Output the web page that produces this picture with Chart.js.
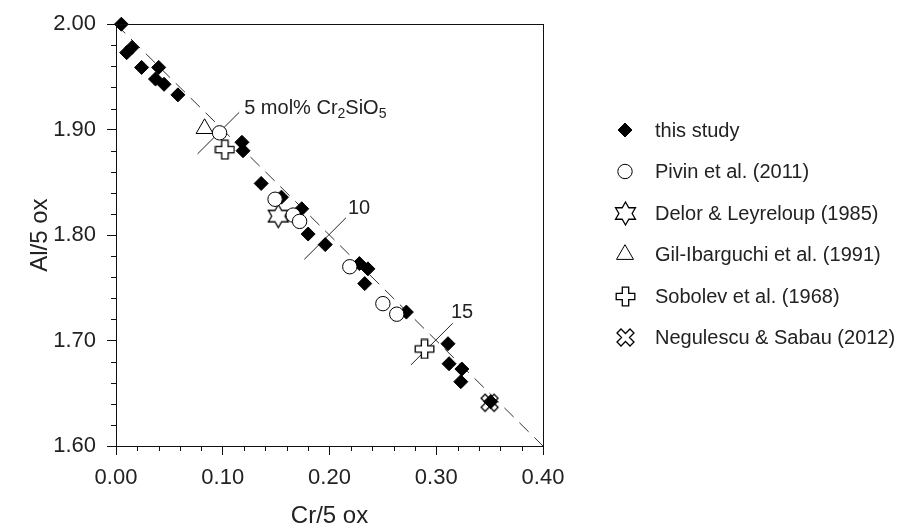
<!DOCTYPE html>
<html><head><meta charset="utf-8">
<script src="https://cdn.jsdelivr.net/npm/chart.js@4.4.1/dist/chart.umd.min.js"></script>
<style>html,body{margin:0;padding:0;background:#fff;}canvas{display:block;}</style>
</head><body>
<canvas id="c" width="902" height="531"></canvas>
<script>
const FONT = '"Liberation Sans", Arial, Helvetica, sans-serif';
const TEXT = '#222';

// ---- data ----
const thisStudyCr = [0.005, 0.015, 0.010, 0.024, 0.040, 0.037, 0.045, 0.058, 0.118, 0.119, 0.136, 0.155, 0.174, 0.180, 0.196, 0.228, 0.236, 0.233, 0.272, 0.311, 0.312, 0.324, 0.323, 0.351];
const thisStudyAl = [2.000, 1.978, 1.973, 1.959, 1.959, 1.948, 1.943, 1.933, 1.888, 1.880, 1.849, 1.836, 1.825, 1.801, 1.791, 1.773, 1.768, 1.754, 1.727, 1.697, 1.678, 1.673, 1.661, 1.642];
const pivinCr = [0.097, 0.149, 0.166, 0.172, 0.219, 0.250, 0.263];
const pivinAl = [1.897, 1.834, 1.819, 1.813, 1.770, 1.735, 1.725];
const delorCr = [0.152];
const delorAl = [1.818];
const gilCr = [0.083];
const gilAl = [1.901];
const sobolevCr = [0.102, 0.289];
const sobolevAl = [1.881, 1.692];
const negulescuCr = [0.350];
const negulescuAl = [1.641];
const seriesNames = ['this study', 'Pivin et al. (2011)', 'Delor & Leyreloup (1985)', 'Gil-Ibarguchi et al. (1991)', 'Sobolev et al. (1968)', 'Negulescu & Sabau (2012)'];

const xTickValues = [0.00, 0.10, 0.20, 0.30, 0.40];
const yTickValues = [1.60, 1.70, 1.80, 1.90, 2.00];
const minorStep = 0.02;
const refLineCr = [0.00, 0.40];            // Al + Cr = 2
const molMarkCr = [0.10, 0.20, 0.30];       // 5, 10, 15 mol% Cr2SiO5
const molMarkLabels = [[['5 mol% Cr', 0], ['2', 1], ['SiO', 0], ['5', 1]], [['10', 0]], [['15', 0]]];

// ---- custom symbols ----
function makeSymbol(size, pathFn) {
  const c = document.createElement('canvas');
  c.width = size; c.height = size;
  const g = c.getContext('2d');
  g.beginPath();
  pathFn(g, size / 2);
  g.closePath();
  g.fillStyle = '#fff'; g.fill();
  g.strokeStyle = '#000'; g.lineWidth = 1.3; g.stroke();
  return c;
}
const starImg = makeSymbol(27, (g, c) => {
  const R = 11.5, r = R / Math.sqrt(3);
  for (let k = 0; k < 12; k++) {
    const a = -Math.PI / 2 + k * Math.PI / 6;
    const rr = k % 2 === 0 ? R : r;
    const px = c + rr * Math.cos(a), py = c + rr * Math.sin(a);
    if (k) g.lineTo(px, py); else g.moveTo(px, py);
  }
});
function crossPts(a, w) {
  return [[-w,-a],[w,-a],[w,-w],[a,-w],[a,w],[w,w],[w,a],[-w,a],[-w,w],[-a,w],[-a,-w],[-w,-w]];
}
const plusImg = makeSymbol(21, (g, c) => {
  crossPts(9.3, 3.2).forEach((p, i) => i ? g.lineTo(c + p[0], c + p[1]) : g.moveTo(c + p[0], c + p[1]));
});
const xImg = makeSymbol(21, (g, c) => {
  const s = Math.SQRT1_2;
  crossPts(9.2, 2.8).forEach((p, i) => {
    const x = c + (p[0] - p[1]) * s, y = c + (p[0] + p[1]) * s;
    i ? g.lineTo(x, y) : g.moveTo(x, y);
  });
});

const toPts = (xs, ys) => xs.map((x, i) => ({x, y: ys[i]}));
const markSegment = c => [{x: c - 0.0236, y: 2 - c - 0.023}, {x: c + 0.0154, y: 2 - c + 0.0164}];

const pointBase = {showLine: false, borderColor: '#000', borderWidth: 1, clip: false};
const datasets = [
  Object.assign({label: seriesNames[0], data: toPts(thisStudyCr, thisStudyAl), pointStyle: 'rectRot', pointRadius: 7, backgroundColor: '#000', order: 4}, pointBase),
  Object.assign({label: seriesNames[1], data: toPts(pivinCr, pivinAl), pointStyle: 'circle', pointRadius: 7.2, backgroundColor: '#fff', order: 0}, pointBase),
  Object.assign({label: seriesNames[2], data: toPts(delorCr, delorAl), pointStyle: starImg, pointRadius: 10, backgroundColor: '#fff', order: 2}, pointBase),
  Object.assign({label: seriesNames[3], data: toPts(gilCr, gilAl), pointStyle: 'triangle', pointRadius: 9.8, backgroundColor: '#fff', order: 1}, pointBase),
  Object.assign({label: seriesNames[4], data: toPts(sobolevCr, sobolevAl), pointStyle: plusImg, pointRadius: 9, backgroundColor: '#fff', order: 3}, pointBase),
  Object.assign({label: seriesNames[5], data: toPts(negulescuCr, negulescuAl), pointStyle: xImg, pointRadius: 9, backgroundColor: '#fff', order: 5}, pointBase),
  {label: 'ref', data: toPts(refLineCr, refLineCr.map(c => 2 - c)), showLine: true, borderColor: '#333', borderWidth: 1, borderDash: [13, 8], pointRadius: 0, order: 10, isAux: true}
].concat(molMarkCr.map(c => ({label: 'mark', data: markSegment(c), showLine: true, borderColor: '#222', borderWidth: 1, pointRadius: 0, order: 9, isAux: true})));

function drawSym(ctx, ds, x, y) {
  const st = ds.pointStyle;
  if (st instanceof HTMLCanvasElement) {
    ctx.drawImage(st, Math.round(x - st.width / 2), Math.round(y - st.height / 2));
    return;
  }
  ctx.save();
  ctx.fillStyle = ds.backgroundColor; ctx.strokeStyle = ds.borderColor; ctx.lineWidth = ds.borderWidth;
  Chart.helpers.drawPoint(ctx, {pointStyle: st, radius: ds.pointRadius, rotation: 0, borderWidth: ds.borderWidth}, x, y);
  ctx.restore();
}

const decor = {
  id: 'decor',
  afterDraw(chart, args, opts) {
    const ctx = chart.ctx, a = chart.chartArea;
    const xs = chart.scales.x, ys = chart.scales.y;
    ctx.save();
    // frame
    ctx.strokeStyle = '#111'; ctx.lineWidth = 1;
    ctx.strokeRect(Math.round(a.left) + 0.5, Math.round(a.top) + 0.5, Math.round(a.right - a.left), Math.round(a.bottom - a.top));
    // minor ticks
    ctx.beginPath();
    const nx = Math.round((xs.max - xs.min) / minorStep);
    for (let k = 0; k <= nx; k++) {
      if (k % 5 === 0) continue;
      const px = Math.round(xs.getPixelForValue(xs.min + k * minorStep)) + 0.5;
      ctx.moveTo(px, Math.round(a.bottom)); ctx.lineTo(px, Math.round(a.bottom) + opts.minorLen);
    }
    const ny = Math.round((ys.max - ys.min) / minorStep);
    for (let k = 0; k <= ny; k++) {
      if (k % 5 === 0) continue;
      const py = Math.round(ys.getPixelForValue(ys.min + k * minorStep)) + 0.5;
      ctx.moveTo(Math.round(a.left), py); ctx.lineTo(Math.round(a.left) - opts.minorLen, py);
    }
    ctx.stroke();
    // mol% labels
    ctx.fillStyle = TEXT; ctx.textBaseline = 'alphabetic'; ctx.textAlign = 'left';
    molMarkCr.forEach((c, i) => {
      const end = markSegment(c)[1];
      let x = xs.getPixelForValue(end.x) + opts.labelOffsets[i][0];
      const y = ys.getPixelForValue(end.y) + opts.labelOffsets[i][1];
      molMarkLabels[i].forEach(([t, sub]) => {
        ctx.font = (sub ? 14 : 20) + 'px ' + FONT;
        ctx.fillText(t, x, y + (sub ? 4 : 0));
        x += ctx.measureText(t).width;
      });
    });
    // legend
    ctx.font = '20px ' + FONT; ctx.textBaseline = 'middle';
    chart.data.datasets.filter(d => !d.isAux).forEach((ds, i) => {
      const y = opts.legendTop + i * opts.legendStep;
      drawSym(ctx, ds, opts.legendSymX, y);
      ctx.fillStyle = TEXT;
      ctx.fillText(ds.label, opts.legendTextX, y + 1);
    });
    ctx.restore();
  }
};

new Chart(document.getElementById('c'), {
  type: 'scatter',
  data: {datasets},
  options: {
    responsive: false, animation: false, events: [], devicePixelRatio: 1,
    layout: {padding: {left: 0, top: 18, right: 359, bottom: 0}},
    plugins: {legend: {display: false}, tooltip: {enabled: false},
      decor: {minorLen: 5, labelOffsets: [[5, 1.5], [2, -4], [-1.7, -5]], legendTop: 130, legendStep: 41.5, legendSymX: 625, legendTextX: 655}},
    scales: {
      x: {type: 'linear', min: 0, max: 0.4, position: 'bottom',
        afterBuildTicks: s => { s.ticks = xTickValues.map(v => ({value: v})); },
        afterFit: s => { s.height = 85; },
        ticks: {callback: v => Number(v).toFixed(2), font: {family: FONT, size: 22}, color: TEXT, padding: 10, maxRotation: 0, autoSkip: false},
        grid: {display: true, drawOnChartArea: false, drawTicks: true, tickLength: 9, tickColor: '#111', tickWidth: 1},
        border: {display: false},
        title: {display: true, text: 'Cr/5 ox', font: {family: FONT, size: 24}, color: TEXT, padding: {top: 0, bottom: 0}}},
      y: {type: 'linear', min: 1.6, max: 2.0, position: 'left',
        afterBuildTicks: s => { s.ticks = yTickValues.map(v => ({value: v})); },
        afterFit: s => { s.width = 116; },
        ticks: {callback: v => Number(v).toFixed(2), font: {family: FONT, size: 22}, color: TEXT, padding: 11, autoSkip: false},
        grid: {display: true, drawOnChartArea: false, drawTicks: true, tickLength: 9, tickColor: '#111', tickWidth: 1},
        border: {display: false},
        title: {display: true, text: 'Al/5 ox', font: {family: FONT, size: 24}, color: TEXT, padding: {top: 26, bottom: 0}}}
    }
  },
  plugins: [decor]
});
</script>
</body></html>
